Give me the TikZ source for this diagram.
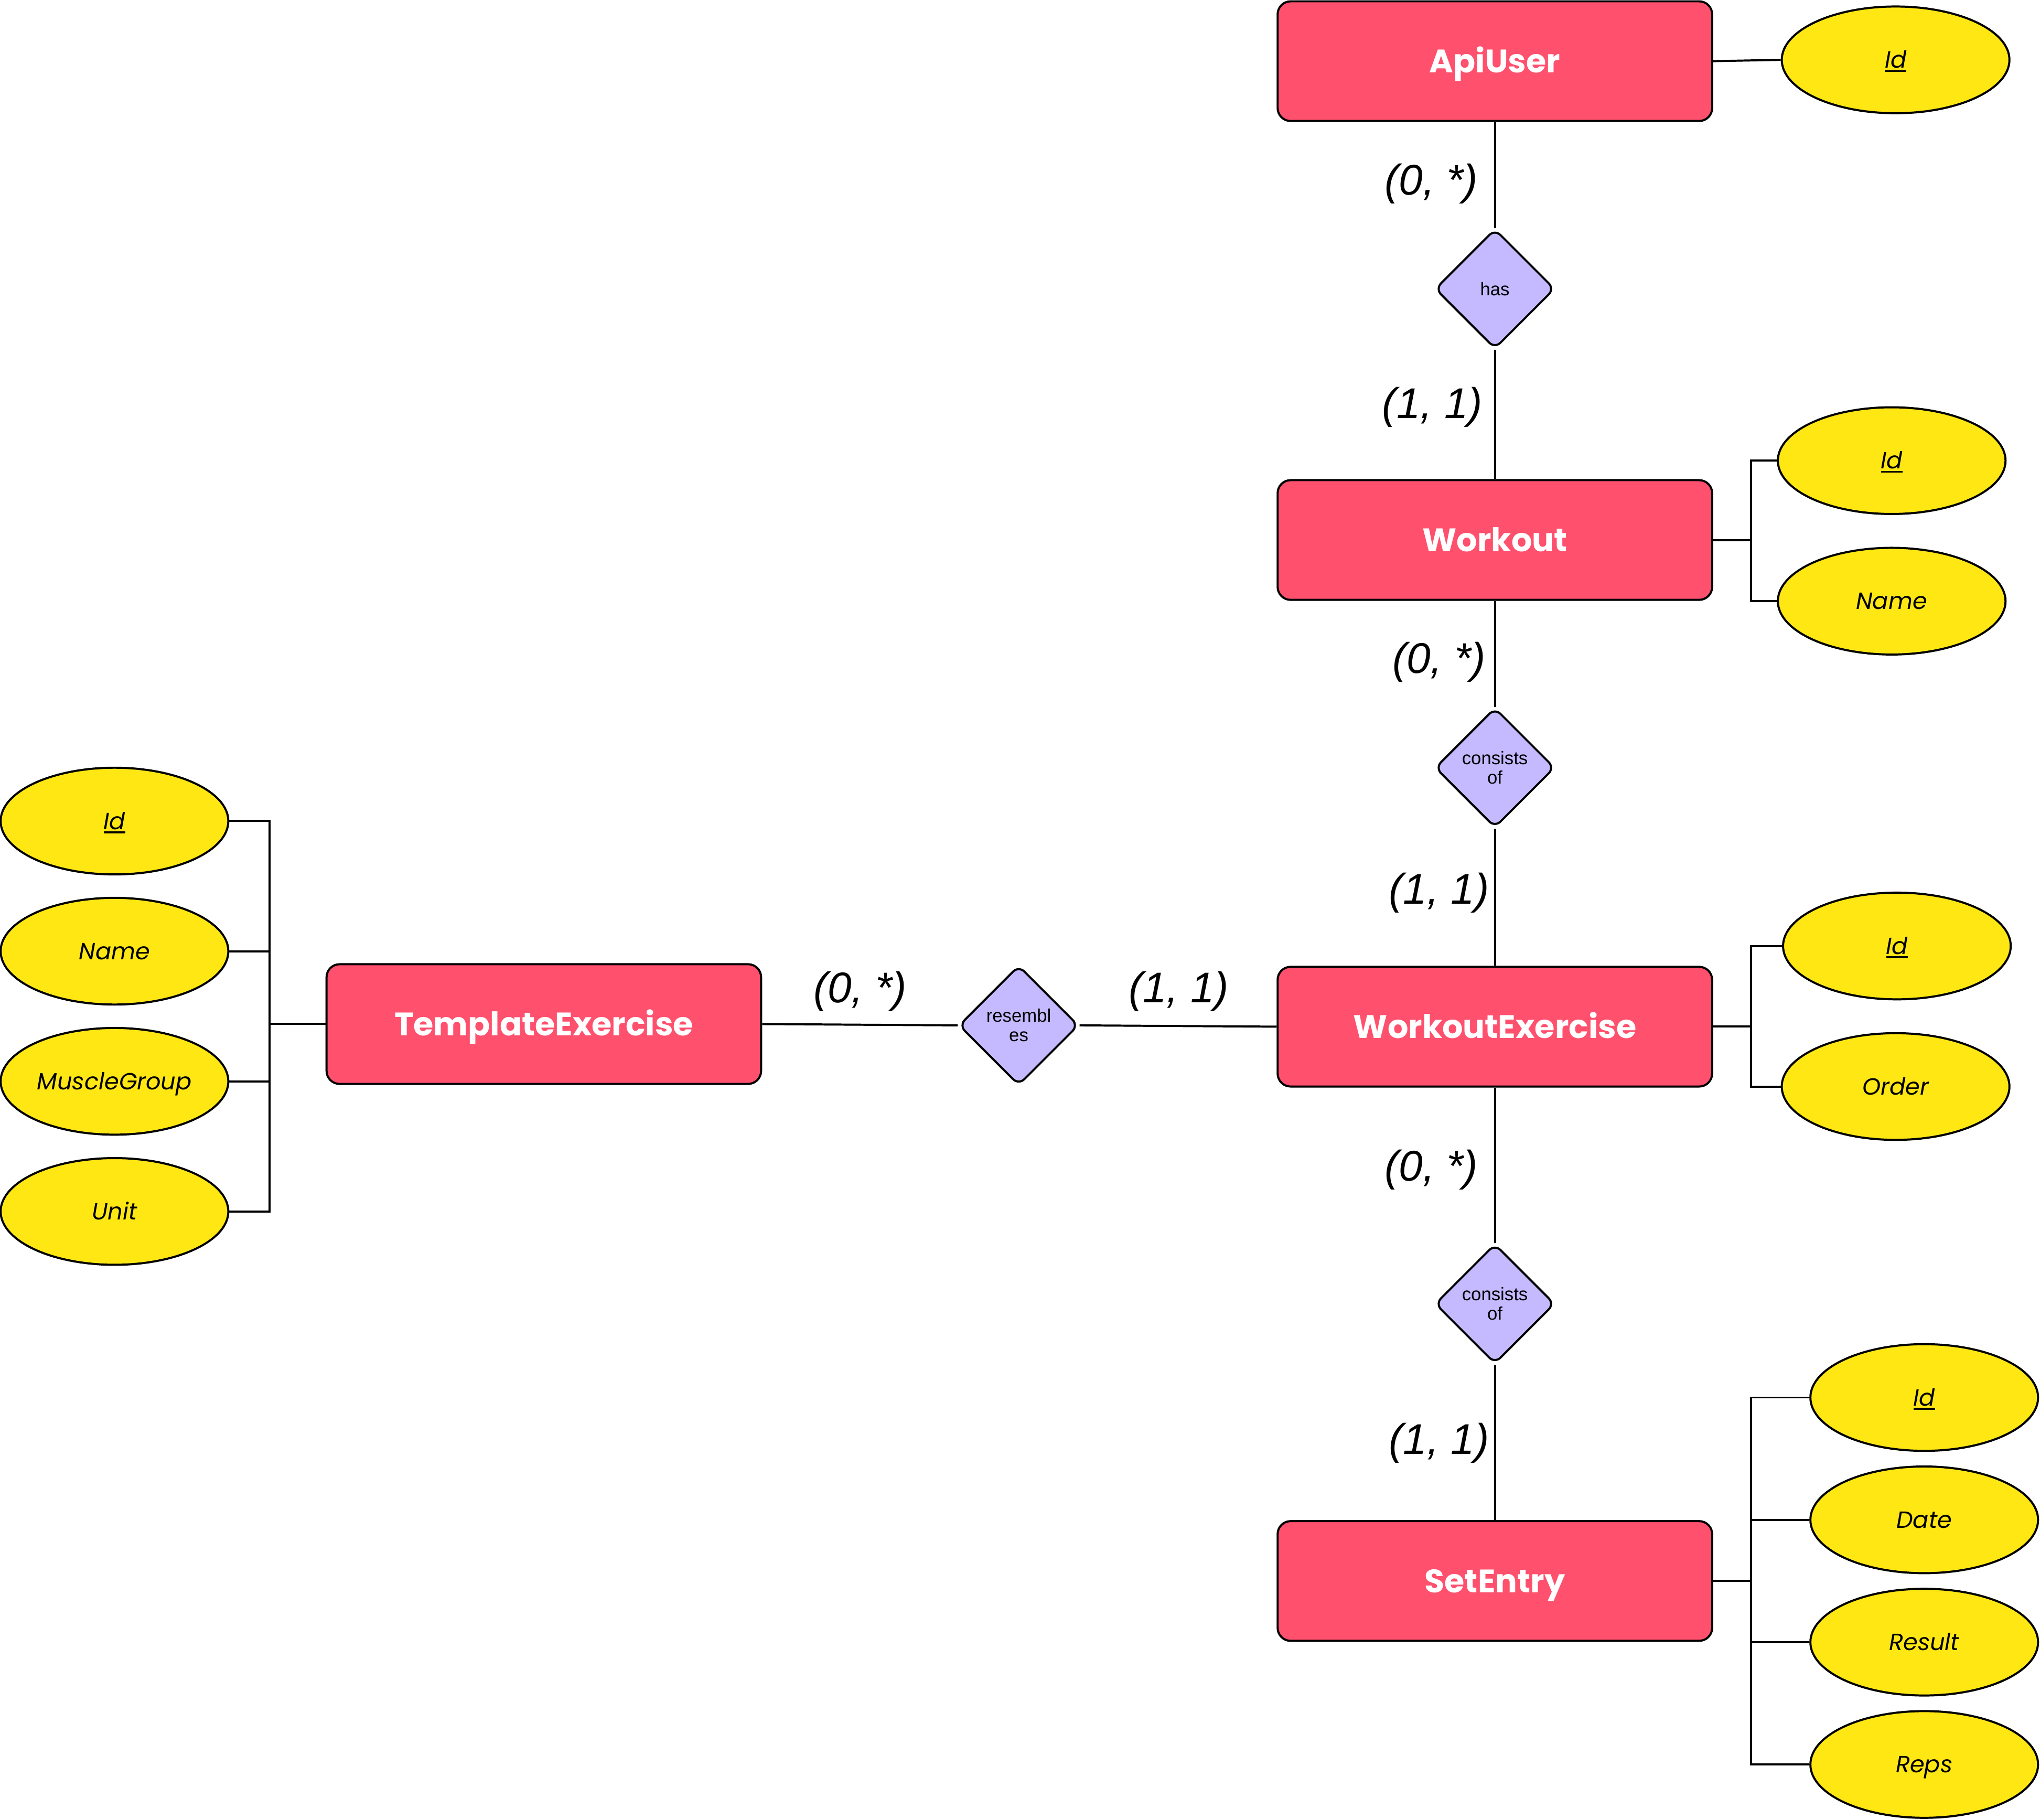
\documentclass[tikz,border=0pt]{standalone}
\usepackage{fontspec}
\setmainfont{Liberation Sans}
\newfontfamily\popp{Poppins}[ItalicFont={Poppins Italic},BoldFont={Poppins Bold}]
\usetikzlibrary{shapes.geometric}
\definecolor{entred}{RGB}{255,80,110}
\definecolor{attyel}{RGB}{255,231,20}
\definecolor{rellav}{RGB}{197,186,255}
\newcommand\keyul[1]{\setbox0\hbox{#1}\rlap{\rule[-3pt]{\wd0}{1.4pt}}\box0}
\tikzset{
  entity/.style={draw=black, line width=1.6pt, fill=entred, rounded corners=10pt,
    minimum width=334pt, minimum height=92pt, inner sep=0pt, text=white,
    text height=17.5pt, text depth=0pt,
    font=\popp\bfseries\fontsize{25}{28}\selectfont},
  attr/.style={draw=black, line width=1.6pt, fill=attyel, ellipse,
    minimum width=175pt, minimum height=82pt, inner sep=0pt,
    text height=12.6pt, text depth=0pt,
    font=\popp\itshape\fontsize{18}{21}\selectfont},
  rel/.style={draw=black, line width=1.6pt, fill=rellav, diamond, rounded corners=6pt,
    minimum width=92pt, minimum height=92pt, inner sep=0pt, align=center,
    font=\fontsize{14}{15}\selectfont},
  card/.style={inner sep=0pt, font=\itshape\fontsize{33}{36}\selectfont},
  conn/.style={line width=1.6pt, black}
}
\begin{document}
\begin{tikzpicture}[x=1pt,y=-1pt]
\useasboundingbox (0,0) rectangle (1568,1398.3);
% entities
\node[entity] (apiuser) at (1149,47) {ApiUser};
\node[entity] (workout) at (1149,415) {Workout};
\node[entity] (wex) at (1149,789) {WorkoutExercise};
\node[entity] (setentry) at (1149,1215) {SetEntry};
\node[entity] (tex) at (418,787) {TemplateExercise};
% relationships
\node[rel] (has) at (1149,222) {has};
\node[rel] (cons1) at (1149,590) {consists\\of};
\node[rel] (res) at (783,788) {resembl\\es};
\node[rel] (cons2) at (1149,1002) {consists\\of};
% attributes
\node[attr] (aid) at (1457,46) {\keyul{Id}};
\node[attr] (wid) at (1454,354) {\keyul{Id}};
\node[attr] (wname) at (1454,462) {Name};
\node[attr] (weid) at (1458,727) {\keyul{Id}};
\node[attr] (weorder) at (1457,835) {Order};
\node[attr] (sid) at (1479,1074) {\keyul{Id}};
\node[attr] (sdate) at (1479,1168) {Date};
\node[attr] (sresult) at (1479,1262) {Result};
\node[attr] (sreps) at (1479,1356) {Reps};
\node[attr] (tid) at (88,631) {\keyul{Id}};
\node[attr] (tname) at (88,731) {Name};
\node[attr] (tmg) at (88,831) {MuscleGroup};
\node[attr] (tunit) at (88,931) {Unit};
% cardinalities
\node[card] (c1) at (1100,141) {(0, *)};
\node[card] (c2) at (1101,313) {(1, 1)};
\node[card] (c3) at (1106,509) {(0, *)};
\node[card] (c4) at (1106,686) {(1, 1)};
\node[card] (c5) at (1100,899) {(0, *)};
\node[card] (c6) at (1106,1109) {(1, 1)};
\node[card] (c7) at (661,762) {(0, *)};
\node[card] (c8) at (906,762) {(1, 1)};
% bracket coordinates
\coordinate (wb) at (1346,415);
\coordinate (web) at (1346,789);
\coordinate (sb) at (1346,1215);
\coordinate (tb) at (207,787);
% relationship connectors
\draw[conn] (apiuser.south) -- (has.north);
\draw[conn] (has.south) -- (workout.north);
\draw[conn] (workout.south) -- (cons1.north);
\draw[conn] (cons1.south) -- (wex.north);
\draw[conn] (wex.south) -- (cons2.north);
\draw[conn] (cons2.south) -- (setentry.north);
\draw[conn] (tex.east) -- (res.west);
\draw[conn] (res.east) -- (wex.west);
% attribute connectors
\draw[conn] (apiuser.east) -- (aid.west);
\draw[conn] (workout.east) -- (wb);
\draw[conn] (wid.west) -- (wid.west -| wb) -- (wname.west -| wb) -- (wname.west);
\draw[conn] (wex.east) -- (web);
\draw[conn] (weid.west) -- (weid.west -| web) -- (weorder.west -| web) -- (weorder.west);
\draw[conn] (setentry.east) -- (sb);
\draw[conn] (sid.west) -- (sid.west -| sb) -- (sreps.west -| sb) -- (sreps.west);
\draw[conn] (sdate.west) -- (sdate.west -| sb);
\draw[conn] (sresult.west) -- (sresult.west -| sb);
\draw[conn] (tex.west) -- (tb);
\draw[conn] (tid.east) -- (tid.east -| tb) -- (tunit.east -| tb) -- (tunit.east);
\draw[conn] (tname.east) -- (tname.east -| tb);
\draw[conn] (tmg.east) -- (tmg.east -| tb);
\end{tikzpicture}
\end{document}
